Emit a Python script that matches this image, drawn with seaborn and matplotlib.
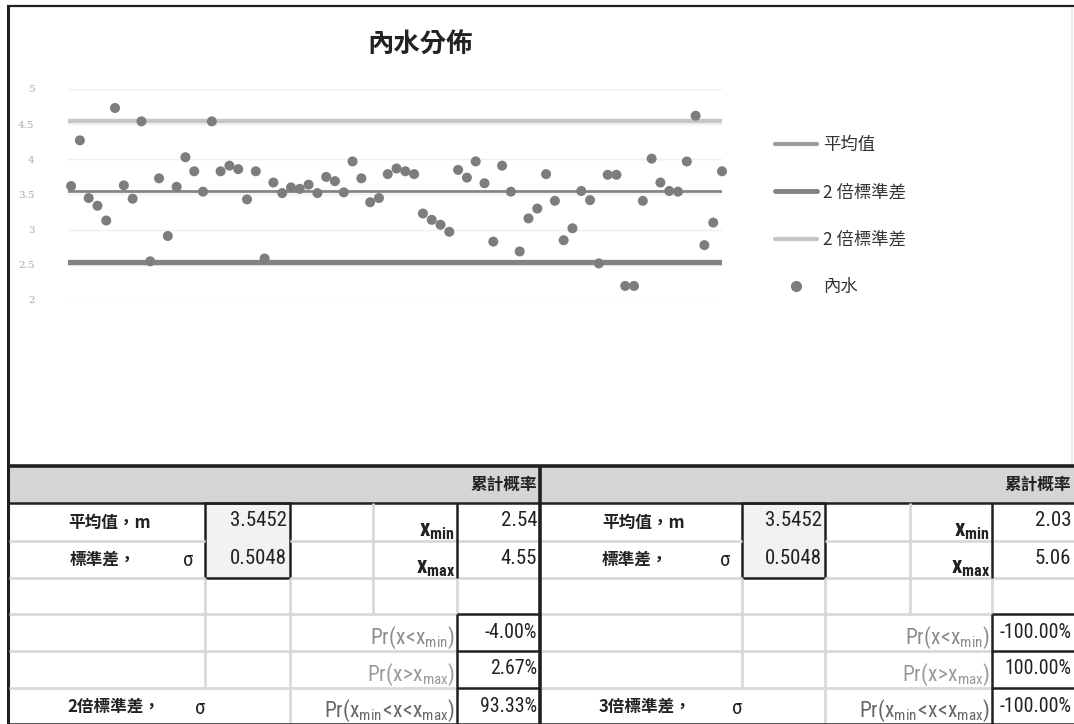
import matplotlib
matplotlib.use("Agg")
import matplotlib.pyplot as plt
from matplotlib import font_manager
from matplotlib.lines import Line2D
from matplotlib.patches import Rectangle
import seaborn as sns
import pandas as pd

# ---- data -------------------------------------------------------------
sample_no = list(range(1, 76))
water = [3.62, 4.27, 3.45, 3.34, 3.13, 4.73, 3.63, 3.44, 4.54, 2.55,
         3.73, 2.91, 3.61, 4.03, 3.83, 3.54, 4.54, 3.83, 3.91, 3.86,
         3.43, 3.83, 2.59, 3.67, 3.52, 3.60, 3.58, 3.64, 3.52, 3.75,
         3.69, 3.53, 3.97, 3.73, 3.39, 3.45, 3.79, 3.87, 3.83, 3.79,
         3.23, 3.14, 3.07, 2.97, 3.85, 3.74, 3.97, 3.66, 2.83, 3.91,
         3.54, 2.69, 3.16, 3.30, 3.79, 3.41, 2.85, 3.02, 3.55, 3.42,
         2.52, 3.78, 3.78, 2.20, 2.20, 3.41, 4.01, 3.67, 3.55, 3.54,
         3.97, 4.62, 2.78, 3.10, 3.83]

mean_val = 3.5452
std_val = 0.5048
limits_2s = (2.54, 4.55)
limits_3s = (2.03, 5.06)
probs_2s = ["-4.00%", "2.67%", "93.33%"]
probs_3s = ["-100.00%", "100.00%", "-100.00%"]
y_ticks = [2, 2.5, 3, 3.5, 4, 4.5, 5]
legend_labels = ["平均值", "2 倍標準差", "2 倍標準差", "內水"]

# ---- style ------------------------------------------------------------
sns.set_theme(style="white")
plt.rcParams["font.family"] = ["Noto Sans CJK TC", "DejaVu Sans"]
installed = {f.name for f in font_manager.fontManager.ttflist}
narrow_prefs = ["Liberation Sans Narrow", "Arial Narrow", "Roboto Condensed",
                "Nimbus Sans Narrow"]
narrow = next((f for f in narrow_prefs if f in installed), None)
if narrow is None:
    narrow = "Liberation Sans"
    num_size, prob_size, math_size = 12.5, 11.5, 13.5
else:
    num_size, prob_size, math_size = 15, 14.3, 15.5
plt.rcParams["mathtext.fontset"] = "custom"
plt.rcParams["mathtext.rm"] = narrow
plt.rcParams["mathtext.it"] = narrow + ":italic"
plt.rcParams["mathtext.bf"] = narrow + ":bold"

W, H = 1074, 724
fig = plt.figure(figsize=(W / 100, H / 100), dpi=100)
fig.patch.set_facecolor("white")


def fx(px):
    return px / W


def fy(py):
    return 1 - py / H


# ---- scatter chart ----------------------------------------------------
ax = fig.add_axes([fx(68), fy(300), fx(722) - fx(68), fy(89) - fy(300)])
df = pd.DataFrame({"no": sample_no, "water": water})

c_mean, c_low, c_up = "#858585", "#838383", "#c6c6c6"
ax.axhline(limits_2s[1], color=c_up, lw=3.2, zorder=2)
ax.axhline(mean_val, color=c_mean, lw=2.0, zorder=2)
ax.axhline(limits_2s[0], color=c_low, lw=3.8, zorder=2)
sns.scatterplot(data=df, x="no", y="water", color="#7d7d7d", s=52,
                edgecolor="none", ax=ax, zorder=3, clip_on=False, legend=False)

ax.set_xlim(0.65, 75.0)
ax.set_ylim(2, 5)
ax.set_yticks(y_ticks)
ax.set_yticklabels([f"{t:g}" for t in y_ticks], fontsize=7.5, color="#a8a8a8",
                   family=["DejaVu Serif"])
ax.set_xticks([])
ax.set_xlabel("")
ax.set_ylabel("")
ax.grid(axis="y", color="#efefef", lw=1)
ax.tick_params(axis="y", length=0, pad=24)
for s in ax.spines.values():
    s.set_visible(False)

fig.text(fx(420), fy(45), "內水分佈", ha="center", va="center",
         fontsize=19, fontweight="bold", color="#222222")

handles = [
    Line2D([], [], color="#9c9c9c", lw=3),
    Line2D([], [], color="#838383", lw=3.5),
    Line2D([], [], color="#c6c6c6", lw=3),
    Line2D([], [], color="#7d7d7d", lw=0, marker="o", markersize=7),
]
fig.legend(handles, legend_labels, loc="upper left",
           bbox_to_anchor=(fx(766), fy(127)), frameon=False, fontsize=12.5,
           handlelength=2.45, handletextpad=0.35, labelspacing=1.7,
           borderpad=0, labelcolor="#333333")

# ---- frame and statistics tables -------------------------------------
ov = fig.add_axes([0, 0, 1, 1], zorder=5)
ov.set_xlim(0, W)
ov.set_ylim(H, 0)
ov.axis("off")
ov.patch.set_alpha(0)

BLACK = "#231f20"
GRID = "#d9d9d9"


def hline(y, x0, x1, c=BLACK, lw=1.6):
    ov.plot([x0, x1], [y, y], color=c, lw=lw, solid_capstyle="butt")


def vline(x, y0, y1, c=BLACK, lw=1.6):
    ov.plot([x, x], [y0, y1], color=c, lw=lw, solid_capstyle="butt")


# outer frame of the chart
hline(6, 7, W, lw=1.6)
vline(7.5, 5, H, lw=2.2)
vline(1071.5, 7, 466, c="#e6e6e6", lw=1.2)

# header band
ov.add_patch(Rectangle((8, 466), W - 8, 37, facecolor="#d4d6d5", edgecolor="none"))
hline(466, 7, W, lw=2.6)
hline(503, 7, W, lw=1.8)

rows = [503, 541, 578, 614, 651, 688, 724]
num_font = dict(family=[narrow, "DejaVu Sans"], fontsize=num_size, color="#222222")
prob_font = dict(family=[narrow, "DejaVu Sans"], fontsize=prob_size, color="#222222")
cjk_bold = dict(family=["Noto Sans CJK TC", "DejaVu Sans"], fontsize=12,
                fontweight="bold", color="#222222")
sig_font = dict(family=[narrow, "DejaVu Sans"], fontsize=15, color="#222222")


def draw_table(c, limits, probs, mult_label):
    x0, xv0, xv1, xg, xb, x1 = c
    # light cell grid
    for y in rows[1:6]:
        if y in (541, 578):
            hline(y, x0 + 1, xv0, GRID, 2)
            hline(y, xv1, x1, GRID, 2)
        else:
            hline(y, x0 + 1, xb, GRID, 2)
    vline(xv0, 578, 688, GRID, 2)
    vline(xv1, 578, H, GRID, 2)
    vline(xg, 503, 614, GRID, 2)
    vline(xb, 578, 614, GRID, 2)
    # mean / std boxes
    ov.add_patch(Rectangle((xv0, 503), xv1 - xv0, 75, facecolor="#f2f2f2",
                           edgecolor=BLACK, lw=1.8))
    vline(xb, 503, 578, lw=1.8)
    # probability boxes
    vline(xb, 614, H, lw=1.8)
    for y in (614, 651, 688):
        hline(y, xb, x1, lw=1.8)
    hline(H - 0.5, x0, x1, lw=1.8)

    ov.text(x1 - 3, 485, "累計概率", ha="right", va="center", **cjk_bold)
    cx = (x0 + xv0) / 2 + 3
    ov.text(cx, 523, "平均值，m", ha="center", va="center", **cjk_bold)
    ov.text(x0 + 62, 560, "標準差，", ha="left", va="center", **cjk_bold)
    ov.text(xv0 - 17, 561, "σ", ha="center", va="center", **sig_font)
    ov.text(x0 + 59, 707, mult_label, ha="left", va="center", **cjk_bold)
    ov.text(xv0 - 5, 708, "σ", ha="center", va="center", **sig_font)

    ov.text(xv1 - 3, 521, f"{mean_val:.4f}", ha="right", va="center", **num_font)
    ov.text(xv1 - 3, 559, f"{std_val:.4f}", ha="right", va="center", **num_font)
    ov.text(x1 - 3, 521, f"{limits[0]:.2f}", ha="right", va="center", **num_font)
    ov.text(x1 - 3, 559, f"{limits[1]:.2f}", ha="right", va="center", **num_font)

    ov.text(xb - 2, 536, r"$\mathbf{x}_{\mathbf{min}}$", ha="right",
            va="baseline", fontsize=math_size + 1, color="#222222")
    ov.text(xb - 2, 573, r"$\mathbf{x}_{\mathbf{max}}$", ha="right",
            va="baseline", fontsize=math_size + 1, color="#222222")
    ov.text(xb - 2, 644, r"$\mathrm{Pr(x\!<\!x_{min})}$", ha="right",
            va="baseline", fontsize=math_size, color="#8c8c8c")
    ov.text(xb - 2, 681, r"$\mathrm{Pr(x\!>\!x_{max})}$", ha="right",
            va="baseline", fontsize=math_size, color="#9a9a9a")
    ov.text(xb - 2, 717, r"$\mathrm{Pr(x_{min}\!<\!x\!<\!x_{max})}$", ha="right",
            va="baseline", fontsize=math_size, color="#666666")
    for y, p in zip((632, 669, 706), probs):
        ov.text(x1 - 3, y, p, ha="right", va="center", **prob_font)


draw_table((8, 205, 290, 373, 457, 540), limits_2s, probs_2s, "2倍標準差，")
draw_table((540, 742, 825, 910, 992, W), limits_3s, probs_3s, "3倍標準差，")
vline(540, 466, H, lw=2.6)

fig.savefig("out.png", dpi=100)
